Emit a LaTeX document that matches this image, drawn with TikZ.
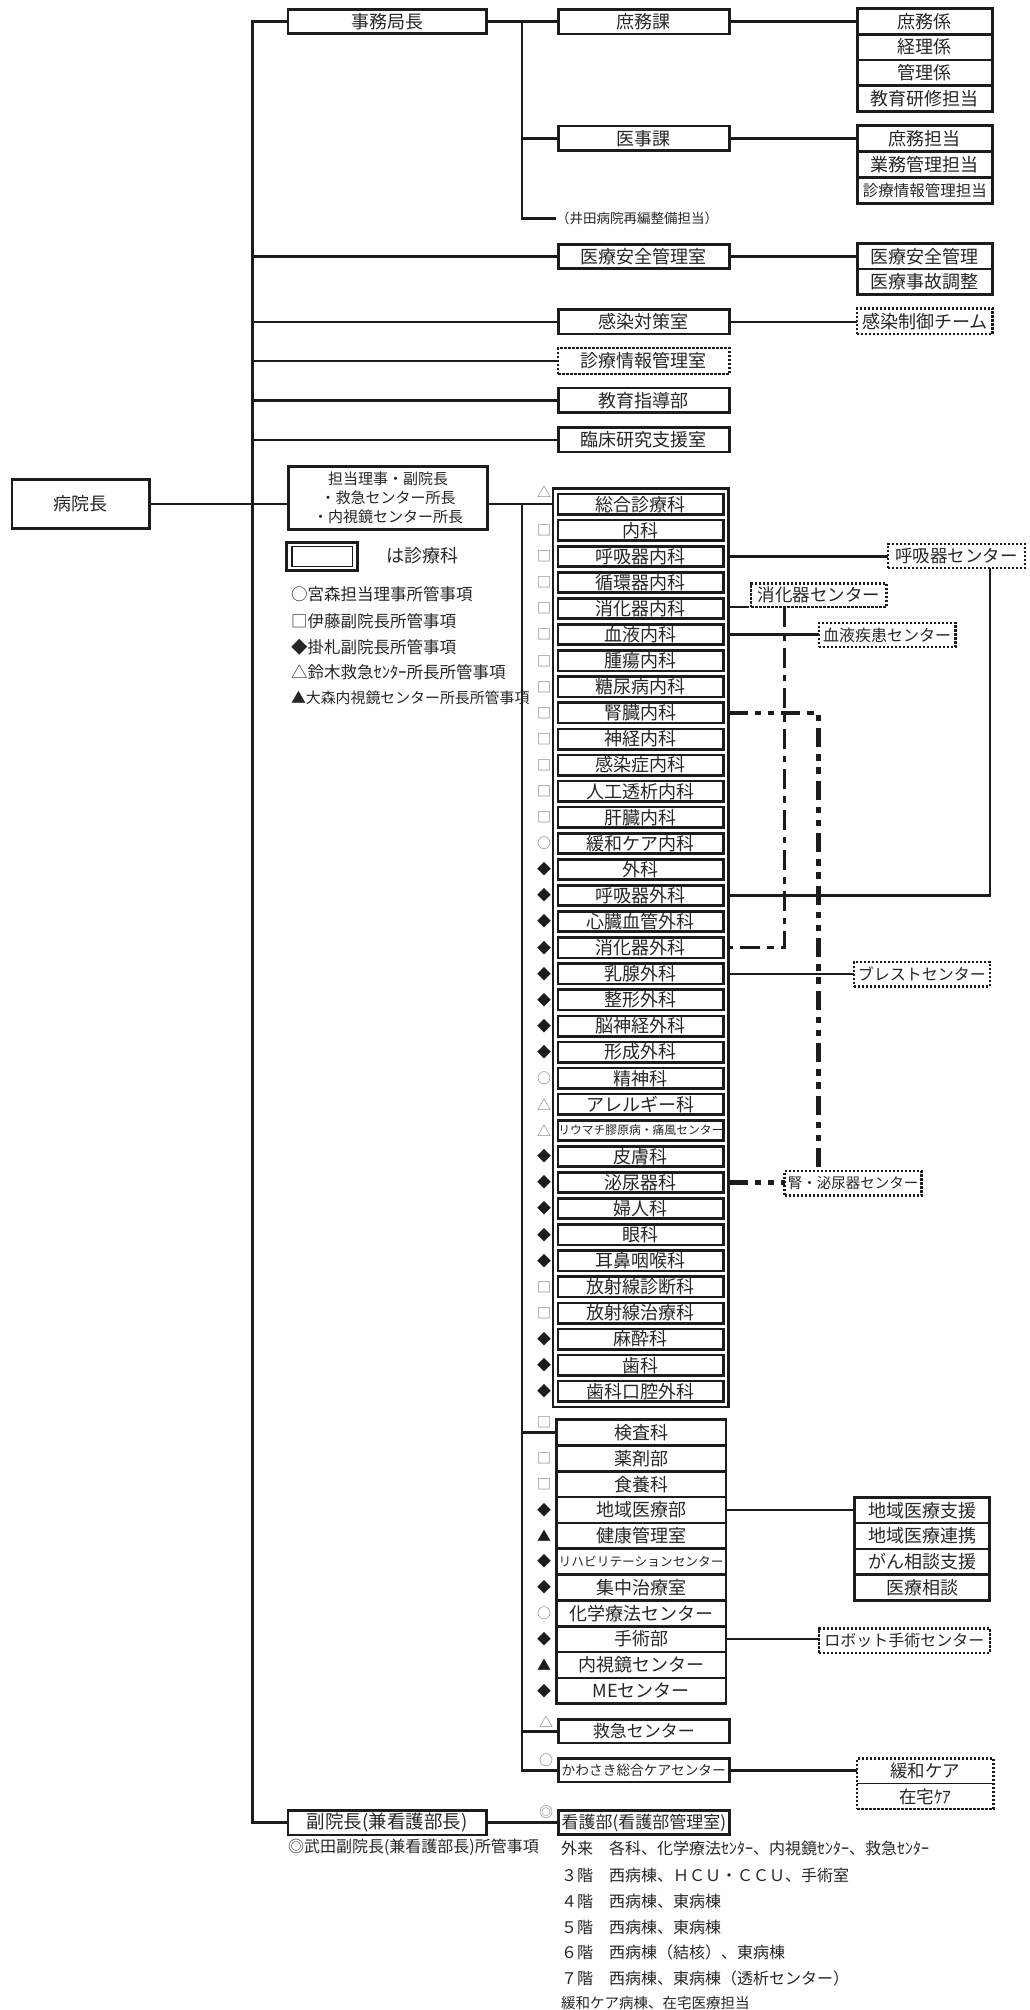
\documentclass[tikz,border=0pt]{standalone}
\usepackage{fontspec}
\setmainfont{Noto Sans CJK JP}
\newcommand{\myfs}[1]{\fontsize{#1}{#1}\selectfont}
\definecolor{txt}{HTML}{262626}
\definecolor{ln}{HTML}{1C1C1C}
\definecolor{symg}{HTML}{707070}
\definecolor{symk}{HTML}{1C1C1C}
\begin{document}
\begin{tikzpicture}[x=1pt,y=-1pt,
  every node/.style={inner sep=0pt,outer sep=0pt,text=txt},
  bx/.style={draw=ln,line width=2.6pt,font=\myfs{18}},
  tb/.style={bx,minimum width=171pt,minimum height=24.5pt},
  lb/.style={bx,minimum width=198.7pt,minimum height=24.3pt},
  sb/.style={bx,minimum width=135.1pt},
  dbx/.style={draw=ln,line width=2.5pt,dash pattern=on 2.3pt off 1.7pt,font=\myfs{18}},
  rowbx/.style={draw=ln,line width=2.7pt,minimum width=165.7pt,minimum height=20.3pt,font=\myfs{18}},
  botbx/.style={draw=ln,line width=2.7pt,minimum width=169.6pt,minimum height=25.82pt,font=\myfs{18}},
  symb/.style={font=\myfs{14}},
  cn/.style={draw=ln,line width=2.4pt},
  dd/.style={draw=ln,line width=2.6pt,dash pattern=on 20pt off 7pt on 6.5pt off 7pt},
  ddd/.style={draw=ln,line width=4.5pt,dash pattern=on 19pt off 7pt on 6.5pt off 6.5pt on 6.5pt off 7pt},
  note/.style={anchor=west,font=\myfs{16}}
]
\useasboundingbox (0,0) rectangle (1029,2010);

% ---------- top section ----------
\node[lb] (jimu) at (387.2,21.6) {事務局長};
\node[tb] (shomuka) at (643.8,21.6) {庶務課};
\node[tb] (ijika) at (643.8,138.3) {医事課};
\node[tb] (anzen) at (643.8,256.5) {医療安全管理室};
\node[tb] (kansen) at (643.8,321.7) {感染対策室};
\node[dbx,minimum width=171.2pt,minimum height=25.9pt] (shinjo) at (643.8,360.8) {診療情報管理室};
\node[tb] (kyoiku) at (643.8,400.3) {教育指導部};
\node[tb] (rinsho) at (643.8,439.7) {臨床研究支援室};

\node[sb,minimum height=25.7pt] (st1a) at (924.85,21.45) {庶務係};
\node[sb,minimum height=25.7pt] (st1b) at (924.85,47.15) {経理係};
\node[sb,minimum height=25.7pt] (st1c) at (924.85,72.85) {管理係};
\node[sb,minimum height=25.7pt] (st1d) at (924.85,98.55) {教育研修担当};

\node[sb,minimum height=26.03pt] (st2a) at (924.85,138.6) {庶務担当};
\node[sb,minimum height=26.03pt] (st2b) at (924.85,164.65) {業務管理担当};
\node[sb,minimum height=26.03pt,font=\myfs{15.5}] (st2c) at (924.85,190.7) {診療情報管理担当};

\node[sb,minimum height=25.4pt] (st3a) at (924.85,256.3) {医療安全管理};
\node[sb,minimum height=25.4pt] (st3b) at (924.85,281.7) {医療事故調整};

\node[dbx,minimum width=135.6pt,minimum height=25.6pt] (team) at (924.85,321.3) {感染制御チーム};

\node[anchor=west,font=\myfs{13.5}] (idatxt) at (556,218.3) {（井田病院再編整備担当）};

% ---------- director and vice ----------
\node[bx,minimum width=137.4pt,minimum height=49.1pt] (director) at (80.8,504.15) {病院長};
\node[bx,minimum width=199.4pt,minimum height=63.1pt,align=center,font=\fontsize{15}{19.2}\selectfont] (tanto) at (388,497.85) {担当理事・副院長\\・救急センター所長\\・内視鏡センター所長};

% legend
\node[draw=ln,line width=3pt,minimum width=71pt,minimum height=28.6pt] (legbox) at (322,556.5) {};
\node[draw=ln,line width=1.8pt,minimum width=60.8pt,minimum height=20pt] (leginner) at (322,556.5) {};
\node[anchor=west,font=\myfs{18}] (legtxt) at (386,556) {は診療科};
\node[anchor=west,font=\myfs{16.5}] (leg1) at (291,594) {○宮森担当理事所管事項};
\node[anchor=west,font=\myfs{16.5}] (leg2) at (291,621) {□伊藤副院長所管事項};
\node[anchor=west,font=\myfs{16.5}] (leg3) at (291,647.3) {◆掛札副院長所管事項};
\node[anchor=west,font=\myfs{16.5}] (leg4) at (291,672.3) {△鈴木救急ｾﾝﾀｰ所長所管事項};
\node[anchor=west,font=\myfs{14.9}] (leg5) at (291,698.3) {▲大森内視鏡センター所長所管事項};

% ---------- clinical departments column ----------
\node[draw=ln,line width=2.7pt,minimum width=175.7pt,minimum height=918.4pt] (colbox) at (640.85,947.8) {};
\foreach \i/\lab/\mk/\cl in {
0/総合診療科/△/symg,
1/内科/□/symg,
2/呼吸器内科/□/symg,
3/循環器内科/□/symg,
4/消化器内科/□/symg,
5/血液内科/□/symg,
6/腫瘍内科/□/symg,
7/糖尿病内科/□/symg,
8/腎臓内科/□/symg,
9/神経内科/□/symg,
10/感染症内科/□/symg,
11/人工透析内科/□/symg,
12/肝臓内科/□/symg,
13/緩和ケア内科/○/symg,
14/外科/◆/symk,
15/呼吸器外科/◆/symk,
16/心臓血管外科/◆/symk,
17/消化器外科/◆/symk,
18/乳腺外科/◆/symk,
19/整形外科/◆/symk,
20/脳神経外科/◆/symk,
21/形成外科/◆/symk,
22/精神科/○/symg,
23/アレルギー科/△/symg,
24/{\myfs{11.8}リウマチ膠原病・痛風センター}/△/symg,
25/皮膚科/◆/symk,
26/泌尿器科/◆/symk,
27/婦人科/◆/symk,
28/眼科/◆/symk,
29/耳鼻咽喉科/◆/symk,
30/放射線診断科/□/symg,
31/放射線治療科/□/symg,
32/麻酔科/◆/symk,
33/歯科/◆/symk,
34/歯科口腔外科/◆/symk}
{
  \pgfmathsetmacro\ry{504.2+26.09*\i}
  \pgfmathsetmacro\sy{\i==0 ? 491.7 : \ry}
  \node[rowbx] (r\i) at (640.85,\ry) {\lab};
  \node[symb,text=\cl] (m\i) at (544,\sy) {\mk};
}

% ---------- lower stack ----------
\foreach \j/\lab/\mk/\cl in {
0/検査科/□/symg,
1/薬剤部/□/symg,
2/食養科/□/symg,
3/地域医療部/◆/symk,
4/健康管理室/▲/symk,
5/{\myfs{12.7}リハビリテーションセンター}/◆/symk,
6/集中治療室/◆/symk,
7/化学療法センター/○/symg,
8/手術部/◆/symk,
9/内視鏡センター/▲/symk,
10/MEセンター/◆/symk}
{
  \pgfmathsetmacro\ry{1432.56+25.82*\j}
  \pgfmathsetmacro\sy{\j==0 ? 1421.7 : \ry}
  \node[botbx] (b\j) at (641.15,\ry) {\lab};
  \node[symb,text=\cl] (n\j) at (544,\sy) {\mk};
}

\node[bx,minimum width=171pt,minimum height=23.4pt,font=\myfs{17}] (kyukyu) at (643.8,1731.3) {救急センター};
\node[symb,text=symg] (mk1) at (546,1721.7) {△};
\node[bx,minimum width=171pt,minimum height=23.4pt,font=\myfs{13.7}] (kawasaki) at (643.8,1770.3) {かわさき総合ケアセンター};
\node[symb,text=symg] (mk2) at (546,1760) {○};
\node[lb,font=\myfs{18.5}] (fuku) at (387.15,1822.65) {副院長(兼看護部長)};
\node[bx,minimum width=171pt,minimum height=24.1pt,font=\myfs{17}] (kango) at (643.8,1822.65) {看護部(看護部管理室)};
\node[symb,text=symg] (mk3) at (546,1812.5) {◎};

% ---------- right side ----------
\node[dbx,minimum width=136.9pt,minimum height=24.2pt,font=\myfs{17.5}] (kokyuC) at (956.35,556) {呼吸器センター};
\node[dbx,minimum width=135.3pt,minimum height=23.6pt,font=\myfs{17.5}] (shokaC) at (818.85,595.3) {消化器センター};
\node[dbx,minimum width=136.6pt,minimum height=24.2pt,font=\myfs{16}] (ketsuC) at (887.2,635) {血液疾患センター};
\node[dbx,minimum width=135.9pt,minimum height=24.3pt,font=\myfs{16}] (breastC) at (921.85,974.35) {ブレストセンター};
\node[dbx,minimum width=137pt,minimum height=24.3pt,font=\myfs{14.5}] (jinC) at (853,1183.35) {腎・泌尿器センター};
\node[dbx,minimum width=170.9pt,minimum height=24.3pt,font=\myfs{16}] (robotC) at (904.35,1640.65) {ロボット手術センター};

\node[sb,minimum height=25.78pt] (cs0) at (922.15,1510.2) {地域医療支援};
\node[sb,minimum height=25.78pt] (cs1) at (922.15,1535.98) {地域医療連携};
\node[sb,minimum height=25.78pt] (cs2) at (922.15,1561.76) {がん相談支援};
\node[sb,minimum height=25.78pt] (cs3) at (922.15,1587.54) {医療相談};

\node[dbx,minimum width=136.3pt,minimum height=50.3pt] (kbox) at (925.35,1783.65) {};
\node[font=\myfs{17.5}] (kanwa) at (925.35,1770.65) {緩和ケア};
\node[font=\myfs{17.5}] (zaitaku) at (925.35,1796.4) {在宅ｹｱ};
\coordinate (kdiv) at (925.35,1783.3);
\draw[ln,line width=1.5pt] (kbox.west |- kdiv) -- (kbox.east |- kdiv);

% ---------- connectors ----------
\coordinate (tr) at (252.6,21.6);
\draw[cn] (jimu.west) -- (tr) -- (tr |- fuku.west) -- (fuku.west);
\foreach \n in {anzen,kansen,shinjo,kyoiku,rinsho}
  \draw[cn] (tr |- \n.west) -- (\n.west);
\draw[cn] (jimu.east) -- (shomuka.west);
\coordinate (v1) at (521.7,21.6);
\coordinate (ida) at (521.7,218.3);
\draw[cn] (v1) -- (ida) -- (idatxt.west);
\draw[cn] (v1 |- ijika.west) -- (ijika.west);
\draw[cn] (shomuka.east) -- (shomuka.east -| st1a.west);
\draw[cn] (ijika.east) -- (ijika.east -| st2a.west);
\draw[cn] (anzen.east) -- (anzen.east -| st3a.west);
\draw[cn] (kansen.east) -- (kansen.east -| team.west);

\draw[cn] (director.east) -- (director.east -| tanto.west);
\draw[cn] (director.east -| tanto.east) -- (director.east -| colbox.west);
\coordinate (v2) at (521.7,504.15);
\draw[cn] (v2) -- (v2 |- kawasaki.west) -- (kawasaki.west);
\draw[cn] (v2 |- b0.west) -- (b0.west);
\draw[cn] (v2 |- kyukyu.west) -- (kyukyu.west);
\draw[cn] (fuku.east) -- (kango.west);

\draw[cn] (r2.east -| colbox.east) -- (r2.east -| kokyuC.west);
\coordinate (kx) at (990,0);
\draw[cn] (kokyuC.south -| kx) -- (kx |- r15.east) -- (r15.east -| colbox.east);
\draw[dd] (colbox.east |- shokaC.south) -- (shokaC.south west);
\coordinate (dx) at (784.3,0);
\draw[dd] (shokaC.south -| dx) -- (dx |- r17.east) -- (r17.east -| colbox.east);
\draw[cn] (r5.east -| colbox.east) -- (r5.east -| ketsuC.west);
\coordinate (jx) at (818.3,0);
\draw[ddd] (r8.east -| colbox.east) -- (jx |- r8.east) -- (jx |- jinC.north);
\draw[ddd] (r26.east -| colbox.east) -- (r26.east -| jinC.west);
\draw[cn] (r18.east -| colbox.east) -- (r18.east -| breastC.west);
\draw[cn] (b3.east) -- (b3.east -| cs0.west);
\draw[cn] (b8.east) -- (b8.east -| robotC.west);
\draw[cn] (kawasaki.east) -- (kawasaki.east -| kbox.west);

% ---------- notes ----------
\node[note] (note0) at (288,1847.7) {◎武田副院長(兼看護部長)所管事項};
\node[note] (note1) at (561,1848) {外来　各科、化学療法ｾﾝﾀｰ、内視鏡ｾﾝﾀｰ、救急ｾﾝﾀｰ};
\node[note] (note2) at (561,1875.5) {３階　西病棟、ＨＣＵ・ＣＣＵ、手術室};
\node[note] (note3) at (561,1901.2) {４階　西病棟、東病棟};
\node[note] (note4) at (561,1927) {５階　西病棟、東病棟};
\node[note] (note5) at (561,1952.8) {６階　西病棟（結核）、東病棟};
\node[note] (note6) at (561,1978.5) {７階　西病棟、東病棟（透析センター）};
\node[note,font=\myfs{14.5}] (note7) at (561,2002.5) {緩和ケア病棟、在宅医療担当};
\end{tikzpicture}
\end{document}
